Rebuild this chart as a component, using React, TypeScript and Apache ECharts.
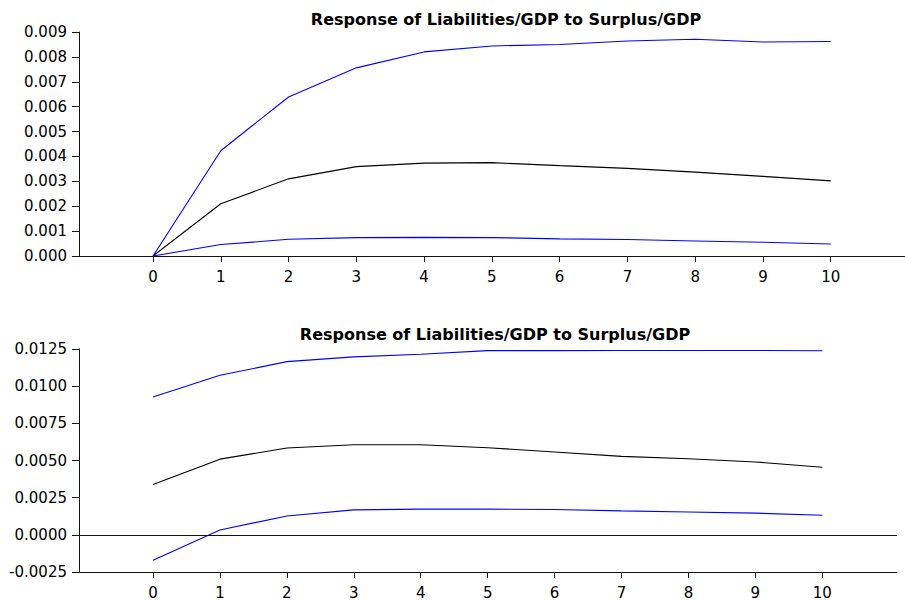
import React, { useEffect, useRef } from "react";
import * as echarts from "echarts";

const periods = [0, 1, 2, 3, 4, 5, 6, 7, 8, 9, 10];
const tickValues = [0, 1, 2, 3, 4, 5, 6, 7, 8, 9, 10];

const titleTop = "Response of Liabilities/GDP to Surplus/GDP";
const titleBottom = "Response of Liabilities/GDP to Surplus/GDP";

const upperTop = [0, 0.00423, 0.00639, 0.00756, 0.0082, 0.00844, 0.0085, 0.00864, 0.00871, 0.0086, 0.00862];
const midTop = [0, 0.0021, 0.0031, 0.00359, 0.00373, 0.00375, 0.00363, 0.00352, 0.00337, 0.0032, 0.00302];
const lowerTop = [0, 0.00046, 0.00067, 0.00074, 0.00075, 0.00074, 0.00069, 0.00066, 0.0006, 0.00055, 0.00048];

const upperBottom = [0.00927, 0.01073, 0.01165, 0.01197, 0.01215, 0.01239, 0.01239, 0.0124, 0.0124, 0.0124, 0.01238];
const midBottom = [0.00339, 0.00509, 0.00584, 0.00606, 0.00606, 0.00586, 0.00557, 0.00528, 0.00512, 0.0049, 0.00455];
const lowerBottom = [-0.00171, 0.00033, 0.00127, 0.00168, 0.00173, 0.00173, 0.0017, 0.00161, 0.00154, 0.00146, 0.00132];

const FONT = "DejaVu Sans";
const AXIS_COLOR = "#111";

function pairs(vals: number[]) {
  return periods.map((p, i) => [p, vals[i]]);
}

function lineSeries(name: string, vals: number[], color: string, idx: number, extra: any = {}) {
  return {
    name,
    type: "line",
    xAxisIndex: idx,
    yAxisIndex: idx,
    data: pairs(vals),
    showSymbol: false,
    symbol: "none",
    lineStyle: { color, width: 1.1 },
    itemStyle: { color },
    silent: true,
    z: 3,
    ...extra,
  };
}

export default function App() {
  const ref = useRef<HTMLDivElement>(null);
  useEffect(() => {
    if (!ref.current) return;
    const chart = echarts.init(ref.current, undefined, { renderer: "svg" });
    const xAxisCommon = (min: number, max: number, idx: number) => ({
      type: "value",
      gridIndex: idx,
      min,
      max,
      axisLine: { show: true, onZero: false, lineStyle: { color: AXIS_COLOR, width: 1 } },
      axisTick: { show: true, customValues: tickValues, length: 6, lineStyle: { color: AXIS_COLOR } },
      axisLabel: {
        customValues: tickValues,
        margin: 13,
        color: "#000",
        fontFamily: FONT,
        fontSize: 15,
        formatter: (v: number) => String(Math.round(v)),
      },
      splitLine: { show: false },
    });
    const yAxisCommon = (min: number, max: number, interval: number, digits: number, idx: number) => ({
      type: "value",
      gridIndex: idx,
      min,
      max,
      interval,
      axisLine: { show: true, onZero: false, lineStyle: { color: AXIS_COLOR, width: 1 } },
      axisTick: { show: true, length: 7, lineStyle: { color: AXIS_COLOR } },
      axisLabel: {
        margin: 12,
        color: "#000",
        fontFamily: FONT,
        fontSize: 15,
        formatter: (v: number) => (Math.abs(v) < 1e-12 ? 0 : v).toFixed(digits),
      },
      splitLine: { show: false },
    });
    chart.setOption({
      animation: false,
      backgroundColor: "#fff",
      grid: [
        { left: 79, top: 32, width: 826, height: 224 },
        { left: 79, top: 349, width: 818, height: 223 },
      ],
      xAxis: [xAxisCommon(-1.092, 11.096, 0), xAxisCommon(-1.106, 11.116, 1)],
      yAxis: [yAxisCommon(0, 0.009, 0.001, 3, 0), yAxisCommon(-0.0025, 0.0125, 0.0025, 4, 1)],
      graphic: [
        {
          type: "text",
          x: 506,
          y: 19,
          style: {
            text: titleTop,
            textAlign: "center",
            textVerticalAlign: "middle",
            fontFamily: FONT,
            fontWeight: "bold",
            fontSize: 16,
            fill: "#000",
          },
        },
        {
          type: "text",
          x: 495,
          y: 334,
          style: {
            text: titleBottom,
            textAlign: "center",
            textVerticalAlign: "middle",
            fontFamily: FONT,
            fontWeight: "bold",
            fontSize: 16,
            fill: "#000",
          },
        },
      ],
      series: [
        lineSeries("Upper (top)", upperTop, "#0000ff", 0),
        lineSeries("Response (top)", midTop, "#000000", 0),
        lineSeries("Lower (top)", lowerTop, "#0000ff", 0),
        lineSeries("Upper (bottom)", upperBottom, "#0000ff", 1),
        lineSeries("Response (bottom)", midBottom, "#000000", 1, {
          markLine: {
            silent: true,
            symbol: ["none", "none"],
            label: { show: false },
            lineStyle: { color: AXIS_COLOR, width: 1, type: "solid" },
            data: [{ yAxis: 0 }],
          },
        }),
        lineSeries("Lower (bottom)", lowerBottom, "#0000ff", 1),
      ],
    });
    return () => chart.dispose();
  }, []);
  return (
    <div
      ref={ref}
      style={{ position: "absolute", left: 0, top: 0, width: 905, height: 600, background: "#fff" }}
    />
  );
}
